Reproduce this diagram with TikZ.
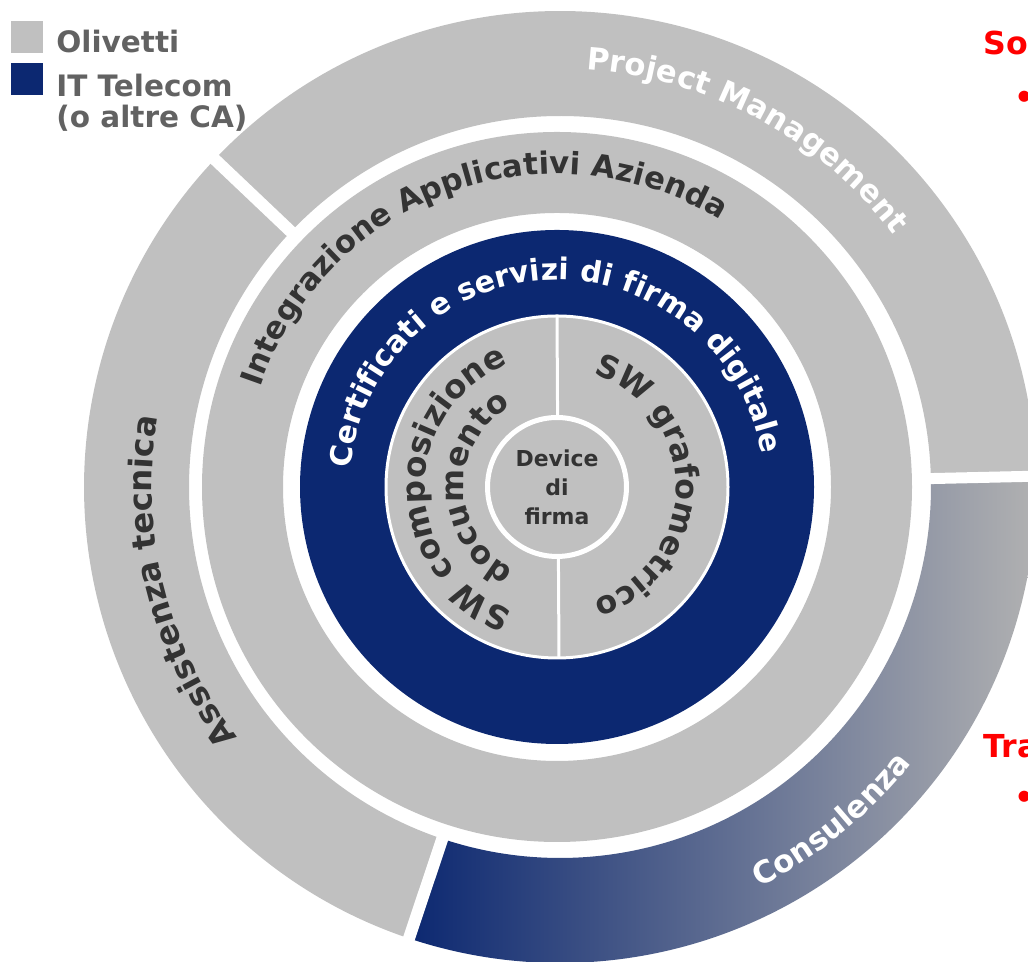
\documentclass[tikz,border=0pt]{standalone}
\usepackage{fontspec}
\setmainfont{DejaVu Sans}
\usetikzlibrary{calc,decorations.text}

\definecolor{olgray}{RGB}{192,192,192}
\definecolor{tinavy}{RGB}{12,40,113}
\definecolor{consgray}{RGB}{178,178,178}
\definecolor{labeldark}{RGB}{51,51,51}
\definecolor{legendgray}{RGB}{98,98,98}

\newcommand{\ringfont}[1]{\fontsize{#1}{#1}\selectfont\bfseries}

\begin{document}
\begin{tikzpicture}[x=0.02cm, y=0.02cm,
  keybox/.style={rectangle, minimum size=0.64cm, inner sep=0pt},
  legendtext/.style={text=legendgray, inner sep=0pt, align=left, font=\fontsize{16.8}{17.6}\selectfont\bfseries},
  gapline/.style={white, line width=0.24cm},
  redtext/.style={text=red, inner sep=0pt, font=\fontsize{18}{21}\selectfont\bfseries}]
  \useasboundingbox (0,0) rectangle (1028,962);
  \clip (0,0) rectangle (1028,962);

  \coordinate (oc) at (560,475);
  \coordinate (c) at (557,475);

  % outer ring: three sectors
  \fill[olgray] ($(oc)+(1.3:371)$) arc[start angle=1.3, end angle=136.5, radius=371]
    -- ($(oc)+(136.5:476)$) arc[start angle=136.5, end angle=1.3, radius=476] -- cycle;
  \fill[olgray] ($(oc)+(136.5:371)$) arc[start angle=136.5, end angle=251.5, radius=371]
    -- ($(oc)+(251.5:476)$) arc[start angle=251.5, end angle=136.5, radius=476] -- cycle;
  \shade[left color=tinavy, right color=consgray] ($(oc)+(251.5:371)$) arc[start angle=251.5, end angle=361.3, radius=371]
    -- ($(oc)+(361.3:476)$) arc[start angle=361.3, end angle=251.5, radius=476] -- cycle;
  \draw[gapline] ($(oc)+(136.5:360)$) -- ($(oc)+(136.5:490)$);
  \draw[gapline] ($(oc)+(251.5:360)$) -- ($(oc)+(251.5:490)$);
  \draw[gapline, line width=0.22cm] ($(oc)+(1.3:360)$) -- ($(oc)+(1.3:500)$);

  % inner rings
  \fill[olgray, even odd rule] (c) circle[radius=355] (c) circle[radius=274];
  \fill[tinavy] (c) circle[radius=257];
  \filldraw[fill=olgray, draw=white, line width=0.06cm] (c) circle[radius=171];
  \draw[white, line width=0.06cm] ($(c)+(0,171)$) -- ($(c)+(2,-171)$);
  \node[circle, fill=olgray, draw=white, line width=0.1cm, minimum size=2.78cm, inner sep=0pt,
    align=center, text=labeldark, font=\fontsize{12.5}{16.5}\selectfont\bfseries] (device) at (c) {Device\\di\\firma};

  % ring labels
  \path[decorate, decoration={text along path, text align=center,
    text={|\ringfont{17.5}\color{white}|Project Management}}]
    ($(oc)+(111.7:418)$) arc[start angle=111.7, end angle=11.7, radius=418];
  \path[decorate, decoration={text along path, text align=center,
    text={|\ringfont{18.5}\color{labeldark}|Assistenza tecnica}}]
    ($(oc)+(264:408)$) arc[start angle=264, end angle=124, radius=408];
  \path[decorate, decoration={text along path, text align=center,
    text={|\ringfont{17.5}\color{white}|Consulenza}}]
    ($(oc)+(-90.8:447)$) arc[start angle=-90.8, end angle=-10.8, radius=447];
  \path[decorate, decoration={text along path, text align=center,
    text={|\ringfont{17.5}\color{labeldark}|Integrazione Applicativi Azienda}}]
    ($(c)+(195:313)$) arc[start angle=195, end angle=25, radius=313];
  \path[decorate, decoration={text along path, text align=center,
    text={|\ringfont{17}\color{white}|Certificati e servizi di firma digitale}}]
    ($(c)+(192:207)$) arc[start angle=192, end angle=-8, radius=207];
  \path[decorate, decoration={text along path, text align=center,
    text={|\ringfont{18.5}\color{labeldark}|SW composizione}}]
    ($(c)+(266:132)$) arc[start angle=266, end angle=96, radius=132];
  \path[decorate, decoration={text along path, text align=center,
    text={|\ringfont{18}\color{labeldark}|documento}}]
    ($(c)+(271:93)$) arc[start angle=271, end angle=91, radius=93];
  \path[decorate, decoration={text along path, text align=center,
    text={|\ringfont{18}\color{labeldark}|SW grafometrico}}]
    ($(c)+(90:119)$) arc[start angle=90, end angle=-90, radius=119];

  % legend
  \node[keybox, fill=olgray] (keyOlivetti) at (27,925) {};
  \node[keybox, fill=tinavy] (keyTelecom) at (27,882.5) {};
  \node[legendtext, anchor=base west] (olivetti) at (56,909) {Olivetti};
  \node[legendtext, anchor=north west] (telecom) at (56,888.5) {IT Telecom\\(o altre CA)};

  % red headings on the right
  \node[redtext, anchor=base west] (headSo) at (983,907) {So};
  \node[redtext] (bulletSo) at (1025,862) {•};
  \node[redtext, anchor=base west] (headTra) at (983,204) {Tra};
  \node[redtext] (bulletTra) at (1025,162) {•};
\end{tikzpicture}
\end{document}
